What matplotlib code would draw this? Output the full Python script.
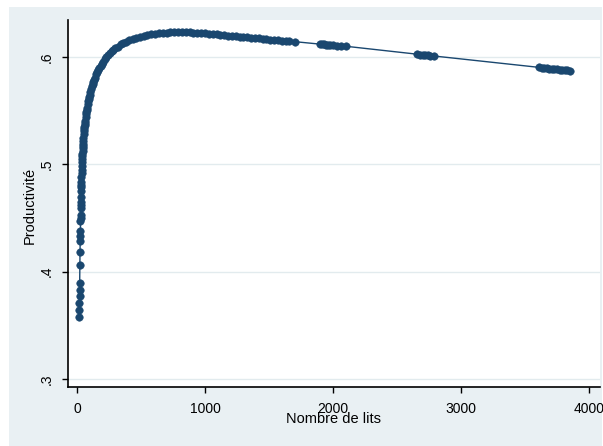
import matplotlib
matplotlib.use("Agg")
import matplotlib.pyplot as plt

plt.rcParams['font.family'] = ['Liberation Sans', 'DejaVu Sans']

# Number of beds (x) and fitted productivity (y)
beds = [18, 18.5, 19, 19.5, 20, 20.5, 22, 23.5, 25, 25.5, 26,
        27, 27.5, 28, 29, 29.5, 30, 31, 32, 33, 33.5, 34, 35, 36, 37, 38, 39, 40,
        41, 42, 43, 44, 45, 46,
        48, 50, 52, 54, 56, 58, 60, 62, 65, 68, 71, 74, 77, 80, 84, 88, 92, 96,
        100, 105, 110, 116, 122, 128, 135, 142, 150, 158, 166, 175, 185, 195,
        205, 216, 228, 240, 255, 270, 285, 300, 320, 340, 360, 385, 410, 435,
        460, 490, 520, 550, 580, 610, 640, 670, 700, 730, 760, 790, 820, 850,
        880, 910, 940, 970, 1000, 1030, 1060, 1090, 1120, 1150, 1180, 1210,
        1240, 1270, 1300, 1330, 1360, 1390, 1420, 1450, 1480, 1510, 1540, 1570,
        1600, 1630, 1660, 1700,
        1900, 1915, 1930, 1945, 1960, 1980, 2000, 2030, 2060, 2100,
        2660, 2680, 2700, 2720, 2740, 2760, 2790,
        3610, 3630, 3650, 3670, 3690, 3710, 3730, 3750, 3770, 3790, 3810, 3830, 3850]

productivite = [0.358, 0.364, 0.371, 0.377, 0.383, 0.389, 0.406, 0.418, 0.429, 0.433, 0.438,
                0.447, 0.450, 0.453, 0.459, 0.462, 0.465, 0.470, 0.475, 0.479, 0.481, 0.484,
                0.488, 0.492, 0.495, 0.499, 0.502, 0.505,
                0.508, 0.510, 0.513, 0.515, 0.517, 0.519,
                0.522, 0.525, 0.528, 0.531, 0.533, 0.535, 0.537, 0.539, 0.541, 0.544,
                0.547, 0.549, 0.551, 0.553, 0.556, 0.559, 0.561, 0.563,
                0.565, 0.568, 0.570, 0.573, 0.575, 0.577, 0.579, 0.581, 0.584, 0.586,
                0.588, 0.590, 0.592, 0.594,
                0.596, 0.598, 0.600, 0.602, 0.604, 0.606, 0.607, 0.609, 0.610, 0.612,
                0.613, 0.614, 0.616, 0.617,
                0.618, 0.619, 0.620, 0.621, 0.6215, 0.622, 0.6225, 0.6228, 0.623, 0.6232,
                0.6233, 0.6234, 0.6234, 0.6233,
                0.6232, 0.623, 0.6228, 0.6226, 0.6223, 0.622, 0.6217, 0.6214, 0.621,
                0.6207, 0.6203, 0.620,
                0.6196, 0.6193, 0.619, 0.6186, 0.6183, 0.618, 0.6176, 0.6173, 0.617,
                0.6166, 0.6163, 0.616,
                0.6156, 0.6153, 0.615, 0.6146,
                0.6122, 0.6121, 0.612, 0.6118, 0.6117, 0.6115, 0.6113, 0.611, 0.6107, 0.6103,
                0.6028, 0.6026, 0.6023, 0.6021, 0.6018, 0.6016, 0.6012,
                0.5906, 0.5903, 0.590, 0.5898, 0.5895, 0.5893, 0.589, 0.5888, 0.5885,
                0.5883, 0.588, 0.5878, 0.5875]

xticks = [0, 1000, 2000, 3000, 4000]
xtick_labels = ['0', '1000', '2000', '3000', '4000']
yticks = [0.3, 0.4, 0.5, 0.6]
ytick_labels = ['.3', '.4', '.5', '.6']

W, H = 603, 446
navy = '#1a476f'
bg = '#e9f0f3'

fig = plt.figure(figsize=(W / 100, H / 100), dpi=100)
fig.patch.set_facecolor('white')

# light background region (graph region)
bgax = fig.add_axes([9 / W, 0, (602 - 9) / W, (446 - 7) / H], zorder=-10)
bgax.set_facecolor(bg)
bgax.set_xticks([])
bgax.set_yticks([])
for s in bgax.spines.values():
    s.set_visible(False)

left, right, top, bottom = 67.7, 600, 20, 387
ax = fig.add_axes([left / W, 1 - bottom / H, (right - left) / W, (bottom - top) / H], zorder=1)
ax.set_facecolor('white')

ax.plot(beds, productivite, color=navy, lw=1.0, marker='o', ms=5.4,
        mfc=navy, mec=navy, mew=0.4, zorder=3)

ax.set_xlim(-72.7, 4086)
ax.set_ylim(0.2924, 0.6348)

ax.set_xticks(xticks)
ax.set_xticklabels(xtick_labels)
ax.set_yticks(yticks)
ax.set_yticklabels(ytick_labels, rotation=90, va='center')

ax.grid(axis='y', color='#e2ebee', lw=1.0)
ax.set_axisbelow(True)

for s in ['top', 'right']:
    ax.spines[s].set_visible(False)
for s in ['left', 'bottom']:
    ax.spines[s].set_color('black')
    ax.spines[s].set_linewidth(1.2)

ax.tick_params(axis='both', length=4, width=1, colors='black', labelsize=10)
ax.tick_params(axis='x', pad=7)
ax.tick_params(axis='y', pad=6)

fig.text(30 / W, 1 - 205 / H, 'Productivité', rotation=90, ha='center',
         va='center', fontsize=10.5)
fig.text(333 / W, 1 - 419 / H, 'Nombre de lits', ha='center', va='center',
         fontsize=10.5)

fig.savefig('out.png', dpi=100)
